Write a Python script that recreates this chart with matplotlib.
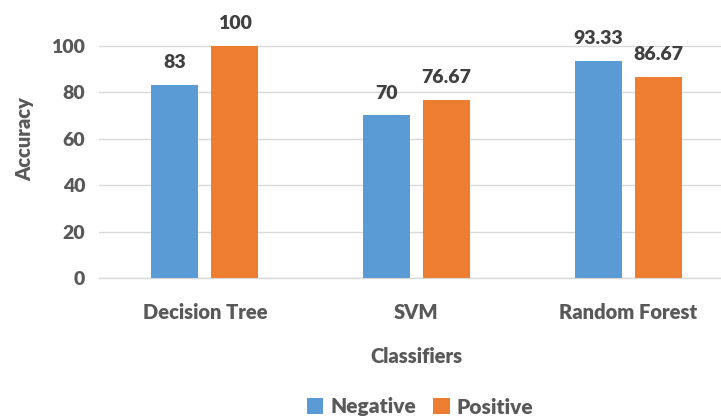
import matplotlib
matplotlib.use("Agg")
import matplotlib.pyplot as plt
import numpy as np

classifiers = ["Decision Tree", "SVM", "Random Forest"]
negative = [83, 70, 93.33]
positive = [100, 76.67, 86.67]
neg_labels = ["83", "70", "93.33"]
pos_labels = ["100", "76.67", "86.67"]

plt.rcParams['font.family'] = 'Lato'

txt = '#595959'
fnt = dict(family='Lato', weight='heavy')
fig = plt.figure(figsize=(7.21, 4.17), dpi=100)
ax = fig.add_axes([99 / 721, 139 / 417, 635 / 721, 278.7 / 417])

x = np.arange(len(classifiers))
w = 0.222
off = 0.1417
b1 = ax.bar(x - off, negative, w, color='#5B9BD5', label='Negative', zorder=3)
b2 = ax.bar(x + off, positive, w, color='#ED7D31', label='Positive', zorder=3)

for bars, labs in ((b1, neg_labels), (b2, pos_labels)):
    for r, s in zip(bars, labs):
        ax.annotate(s, (r.get_x() + r.get_width() / 2, r.get_height()),
                    xytext=(0, 10), textcoords='offset points',
                    ha='center', va='bottom', fontsize=14,
                    color='#404040', annotation_clip=False, **fnt)

ax.set_xlim(-0.5, 2.5)
ax.set_ylim(0, 120)
ax.set_yticks([0, 20, 40, 60, 80, 100])
ax.set_xticks(x)
ax.set_xticklabels(classifiers, **fnt)
ax.set_yticklabels([str(v) for v in [0, 20, 40, 60, 80, 100]], **fnt)
ax.tick_params(axis='both', length=0, labelsize=14, labelcolor=txt)
ax.tick_params(axis='x', labelsize=14.5)
ax.tick_params(axis='y', pad=10)
ax.tick_params(axis='x', pad=18)

ax.grid(axis='y', color='#D9D9D9', linewidth=1, zorder=0)
for s in ['top', 'right', 'left']:
    ax.spines[s].set_visible(False)
ax.spines['bottom'].set_color('#D9D9D9')
ax.spines['bottom'].set_linewidth(1)

ax.set_xlabel('Classifiers', fontsize=14.5, color=txt, labelpad=18, **fnt)
ax.set_ylabel('Accuracy', fontsize=14.5, color=txt, labelpad=12, **fnt)

fig.legend(handles=[b1, b2], loc='center', bbox_to_anchor=(420 / 721, 1 - 407 / 417),
           ncol=2, frameon=False, handlelength=0.8, handleheight=0.8,
           handletextpad=0.35, columnspacing=0.8, labelcolor=txt,
           prop={'family': 'Lato', 'weight': 'heavy', 'size': 15})

fig.savefig('out.png', dpi=100)
